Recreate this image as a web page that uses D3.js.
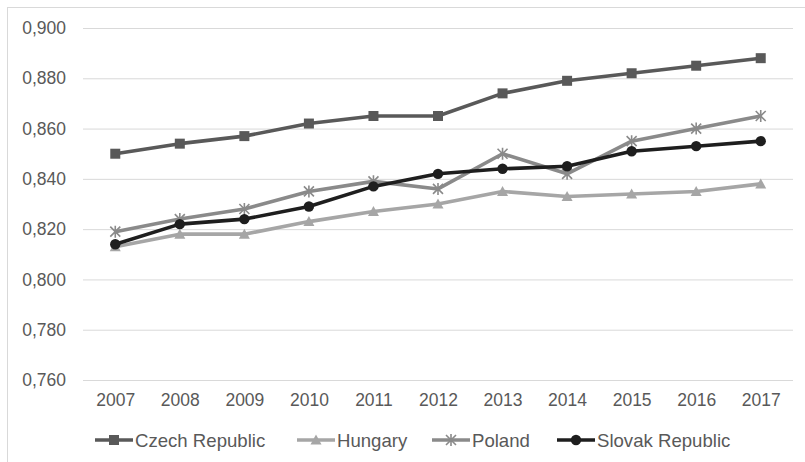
<!DOCTYPE html>
<html>
<head>
<meta charset="utf-8">
<script src="https://cdn.jsdelivr.net/npm/d3@7"></script>
<style>
body { margin: 0; background: #fff; }
svg { display: block; font-family: "Liberation Sans", Arial, sans-serif; }
</style>
</head>
<body>
<svg width="805" height="462"></svg>
<script>
var years = ["2007", "2008", "2009", "2010", "2011", "2012", "2013", "2014", "2015", "2016", "2017"];
var czech = [0.850, 0.854, 0.857, 0.862, 0.865, 0.865, 0.874, 0.879, 0.882, 0.885, 0.888];
var hungary = [0.813, 0.818, 0.818, 0.823, 0.827, 0.830, 0.835, 0.833, 0.834, 0.835, 0.838];
var poland = [0.819, 0.824, 0.828, 0.835, 0.839, 0.836, 0.850, 0.842, 0.855, 0.860, 0.865];
var slovak = [0.814, 0.822, 0.824, 0.829, 0.837, 0.842, 0.844, 0.845, 0.851, 0.853, 0.855];
var yTicks = [0.760, 0.780, 0.800, 0.820, 0.840, 0.860, 0.880, 0.900];

var series = [
  { name: "Czech Republic", values: czech, color: "#595959", marker: "square" },
  { name: "Hungary", values: hungary, color: "#a6a6a6", marker: "triangle" },
  { name: "Poland", values: poland, color: "#8a8a8a", marker: "star" },
  { name: "Slovak Republic", values: slovak, color: "#1e1e1e", marker: "circle" }
];

var svg = d3.select("svg");

// chart frame
svg.append("rect")
  .attr("x", 7.5).attr("y", 7.5)
  .attr("width", 820).attr("height", 480)
  .attr("fill", "none")
  .attr("stroke", "#d9d9d9");

var plotLeft = 83, plotRight = 793, plotTop = 28, plotBottom = 380;

var x = d3.scalePoint().domain(years).range([plotLeft, plotRight]).padding(0.5);
var y = d3.scaleLinear().domain([0.760, 0.900]).range([plotBottom, plotTop]);

var fmt = function (d) { return d3.format(".3f")(d).replace(".", ","); };

// grid
svg.append("g")
  .attr("transform", "translate(" + plotLeft + ",0)")
  .call(d3.axisLeft(y).tickValues(yTicks).tickSize(-(plotRight - plotLeft)).tickPadding(17).tickFormat(fmt))
  .call(function (g) {
    g.select(".domain").remove();
    g.selectAll(".tick line").attr("stroke", "#d9d9d9").attr("stroke-width", 1);
    g.selectAll(".tick text").attr("fill", "#595959").attr("font-size", "17.5px");
  });

// x labels
svg.append("g")
  .attr("transform", "translate(0," + plotBottom + ")")
  .call(d3.axisBottom(x).tickSize(0).tickPadding(14))
  .call(function (g) {
    g.select(".domain").remove();
    g.selectAll(".tick text").attr("fill", "#595959").attr("font-size", "17.5px");
  });

function drawMarker(sel, type, color) {
  if (type === "square") {
    sel.append("rect").attr("x", -5).attr("y", -5).attr("width", 10).attr("height", 10)
      .attr("fill", color);
  } else if (type === "triangle") {
    sel.append("path").attr("d", "M0,-5.5L5.5,4.5L-5.5,4.5Z").attr("fill", color);
  } else if (type === "star") {
    sel.append("path").attr("d", "M-5,-5L5,5M-5,5L5,-5M0,-6L0,6")
      .attr("stroke", color).attr("stroke-width", 1.6).attr("fill", "none");
  } else {
    sel.append("circle").attr("r", 5.2).attr("fill", color);
  }
}

var line = d3.line()
  .x(function (d, i) { return x(years[i]); })
  .y(function (d) { return y(d); });

series.forEach(function (s) {
  var g = svg.append("g");
  g.append("path")
    .datum(s.values)
    .attr("d", line)
    .attr("fill", "none")
    .attr("stroke", s.color)
    .attr("stroke-width", 3.6)
    .attr("stroke-linejoin", "round");
  g.selectAll(".pt")
    .data(s.values)
    .enter()
    .append("g")
    .attr("class", "pt")
    .attr("transform", function (d, i) { return "translate(" + x(years[i]) + "," + y(d) + ")"; })
    .each(function () { drawMarker(d3.select(this), s.marker, s.color); });
});

// legend
var legendX = [95, 297, 432, 557];
series.forEach(function (s, i) {
  var lg = svg.append("g").attr("transform", "translate(" + legendX[i] + ",440)");
  lg.append("line").attr("x1", 0).attr("x2", 38).attr("y1", 0).attr("y2", 0)
    .attr("stroke", s.color).attr("stroke-width", 3.6);
  var m = lg.append("g").attr("transform", "translate(19,0)");
  drawMarker(m, s.marker, s.color);
  lg.append("text")
    .attr("x", 40).attr("y", 0).attr("dy", "0.35em")
    .attr("fill", "#595959").attr("font-size", "18.6px")
    .text(s.name);
});
</script>
</body>
</html>
